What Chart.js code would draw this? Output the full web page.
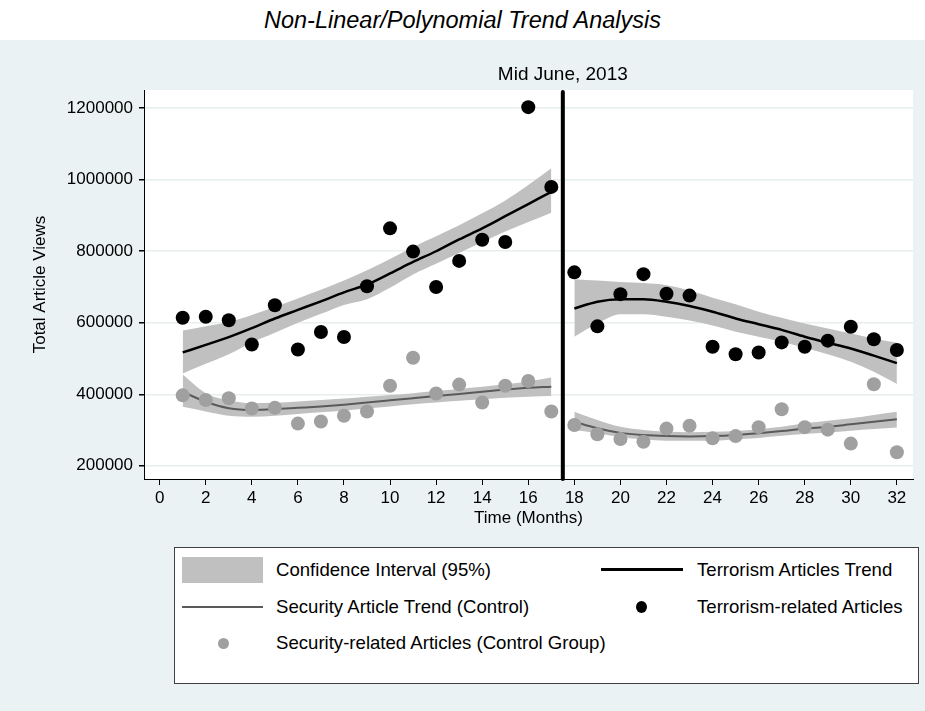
<!DOCTYPE html>
<html>
<head>
<meta charset="utf-8">
<script src="https://cdn.jsdelivr.net/npm/chart.js@4/dist/chart.umd.min.js"></script>
<style>
  html, body { margin: 0; padding: 0; }
  body { width: 925px; height: 711px; position: relative; overflow: hidden; background: #ffffff;
         font-family: "Liberation Sans", Arial, sans-serif; }
  #bg { position: absolute; left: 0; top: 40px; width: 925px; height: 671px; background: rgb(234,242,243); }
  #title { position: absolute; left: 0; top: 6px; width: 925px; text-align: center; font-style: italic;
           font-size: 23.5px; color: #000; line-height: 28px; }
  #wrap { position: absolute; left: 0; top: 0; width: 925px; height: 711px; }
  #legend { position: absolute; left: 174px; top: 547px; width: 745px; height: 137px; background: #fff;
            border: 1px solid #404040; box-sizing: border-box; }
  .lt { position: absolute; font-size: 18.6px; color: #000; line-height: 20px; white-space: nowrap; }
  .key { position: absolute; }
</style>
</head>
<body>
<div id="bg"></div>
<div id="title">Non-Linear/Polynomial Trend Analysis</div>
<div id="wrap"><canvas id="c" width="925" height="711"></canvas></div>
<div id="legend"></div>
<script>
// ---------------- data ----------------
const monthsPre  = [1,2,3,4,5,6,7,8,9,10,11,12,13,14,15,16,17];
const monthsPost = [18,19,20,21,22,23,24,25,26,27,28,29,30,31,32];
const monthsAll  = [1,2,3,4,5,6,7,8,9,10,11,12,13,14,15,16,17,18,19,20,21,22,23,24,25,26,27,28,29,30,31,32];

const terrorismViews = [614000,617000,607000,539000,649000,525000,574000,560000,702000,864000,799000,700000,773000,832000,826000,1203000,980000,
                        741000,590000,680000,736000,681000,676000,533000,512000,517000,545000,533000,550000,589000,554000,524000];
const securityViews  = [397000,384000,389000,360000,362000,318000,324000,340000,352000,424000,502000,402000,427000,377000,424000,437000,352000,
                        314000,288000,275000,267000,304000,312000,277000,283000,308000,358000,308000,301000,262000,428000,238000];

const terrTrendPre  = [517000,538000,560000,585000,612000,636000,660000,685000,707000,738000,770000,800000,833000,864000,898000,932000,966000];
const terrUpperPre  = [578000,590000,602000,622000,645000,668000,692000,718000,747000,778000,812000,842000,873000,906000,942000,985000,1032000];
const terrLowerPre  = [458000,485000,512000,545000,572000,600000,625000,650000,666000,698000,735000,765000,795000,825000,855000,882000,908000];

const terrTrendPost = [640000,659000,666000,666000,659000,647000,631000,612000,596000,580000,561000,544000,528000,508000,487000];
const terrUpperPost = [722000,718000,714000,711000,705000,690000,670000,652000,631000,614000,598000,584000,570000,556000,544000];
const terrLowerPost = [561000,598000,624000,624000,617000,606000,592000,575000,561000,547000,530000,512000,491000,463000,429000];

const secTrendPre   = [407000,379000,361000,356000,358000,362000,366000,371000,377000,383000,389000,395000,401000,407000,413000,418000,421000];
const secUpperPre   = [455000,403000,383000,375000,376000,380000,384000,388000,393000,398000,403000,409000,415000,421000,428000,436000,447000];
const secLowerPre   = [365000,352000,340000,337000,340000,345000,350000,354000,360000,366000,372000,377000,382000,386000,390000,393000,395000];

const secTrendPost  = [323000,305000,292000,286000,283000,282000,283000,286000,291000,297000,304000,309000,316000,323000,330000];
const secUpperPost  = [351000,328000,309000,300000,295000,294000,295000,297000,302000,309000,319000,326000,333000,342000,351000];
const secLowerPost  = [300000,291000,280000,274000,270000,270000,270000,274000,278000,284000,289000,293000,298000,303000,307000];

const cutoffMonth = 17.5;
const cutoffLabel = "Mid June, 2013";
const xTicks = [0,2,4,6,8,10,12,14,16,18,20,22,24,26,28,30,32];
const yTicks = [200000,400000,600000,800000,1000000,1200000];

const legendLabels = {
  ci: "Confidence Interval (95%)",
  terrTrend: "Terrorism Articles Trend",
  secTrend: "Security Article Trend (Control)",
  terrPts: "Terrorism-related Articles",
  secPts: "Security-related Articles (Control Group)"
};

// ---------------- styles ----------------
const FONT = '"Liberation Sans", Arial, sans-serif';
const bandColor = 'rgb(192,192,192)';
const gridColor = 'rgb(230,238,240)';
const terrColor = '#000000';
const secLineColor = 'rgb(90,90,90)';
const secPtColor = 'rgb(160,160,160)';

const pts = (xs, ys) => xs.map((x, i) => ({x: x, y: ys[i]}));

function bandPair(xs, up, lo) {
  return [
    { data: pts(xs, up), borderWidth: 0, pointRadius: 0, fill: false, showLine: true,
      cubicInterpolationMode: 'monotone', order: 20 },
    { data: pts(xs, lo), borderWidth: 0, pointRadius: 0, fill: '-1', backgroundColor: bandColor, showLine: true,
      cubicInterpolationMode: 'monotone', order: 20 }
  ];
}
function trend(xs, ys, color, w) {
  return { data: pts(xs, ys), borderColor: color, borderWidth: w, pointRadius: 0, fill: false, showLine: true,
           cubicInterpolationMode: 'monotone', order: 10 };
}
function points(xs, ys, color, r, ord) {
  return { data: pts(xs, ys), showLine: false, pointRadius: r, pointBackgroundColor: color,
           pointBorderWidth: 0, borderColor: color, order: ord };
}

const datasets = [].concat(
  bandPair(monthsPre, terrUpperPre, terrLowerPre),
  bandPair(monthsPost, terrUpperPost, terrLowerPost),
  bandPair(monthsPre, secUpperPre, secLowerPre),
  bandPair(monthsPost, secUpperPost, secLowerPost),
  [trend(monthsPre, terrTrendPre, terrColor, 2.5),
   trend(monthsPost, terrTrendPost, terrColor, 2.5),
   trend(monthsPre, secTrendPre, secLineColor, 2),
   trend(monthsPost, secTrendPost, secLineColor, 2),
   points(monthsAll, securityViews, secPtColor, 7, 3),
   points(monthsAll, terrorismViews, terrColor, 7, 2)]
);

const plotBg = {
  id: 'plotBg',
  beforeDraw(chart) {
    const a = chart.chartArea, ctx = chart.ctx;
    ctx.save(); ctx.fillStyle = '#ffffff';
    ctx.fillRect(a.left, a.top, a.right - a.left, a.bottom - a.top);
    ctx.restore();
  }
};
const cutoff = {
  id: 'cutoff',
  afterDatasetsDraw(chart) {
    const a = chart.chartArea, ctx = chart.ctx;
    const x = chart.scales.x.getPixelForValue(cutoffMonth);
    ctx.save();
    ctx.strokeStyle = '#000'; ctx.lineWidth = 4; ctx.lineCap = 'round';
    ctx.beginPath(); ctx.moveTo(x, a.top + 2); ctx.lineTo(x, a.bottom); ctx.stroke();
    ctx.fillStyle = '#000'; ctx.font = '19px ' + FONT; ctx.textAlign = 'center'; ctx.textBaseline = 'middle';
    ctx.fillText(cutoffLabel, x, a.top - 15);
    ctx.restore();
  }
};

new Chart(document.getElementById('c'), {
  type: 'line',
  data: { datasets: datasets },
  plugins: [plotBg, cutoff],
  options: {
    responsive: false,
    animation: false,
    events: [],
    layout: { padding: { top: 90, right: 12, bottom: 172, left: 0 } },
    plugins: { legend: { display: false }, tooltip: { enabled: false }, title: { display: false } },
    scales: {
      x: {
        type: 'linear', min: -0.68, max: 32.7,
        afterBuildTicks: s => { s.ticks = xTicks.map(v => ({value: v})); },
        afterFit: s => { s.height = 60; },
        grid: { drawOnChartArea: false, drawTicks: true, tickLength: 6, tickColor: '#000', color: '#000' },
        border: { display: true, color: '#000', width: 1 },
        ticks: { color: '#000', font: { family: FONT, size: 17 }, padding: 3, maxRotation: 0, autoSkip: false },
        title: { display: true, text: 'Time (Months)', color: '#000', font: { family: FONT, size: 17 },
                 padding: { top: 0, bottom: 10 } }
      },
      y: {
        type: 'linear', min: 163000, max: 1251000,
        afterBuildTicks: s => { s.ticks = yTicks.map(v => ({value: v})); },
        afterFit: s => { s.width = 144; },
        grid: { color: gridColor, lineWidth: 1.5, drawTicks: true, tickLength: 5, tickColor: '#000' },
        border: { display: true, color: '#000', width: 1 },
        ticks: { color: '#000', font: { family: FONT, size: 17 }, padding: 6, callback: v => String(v), autoSkip: false },
        title: { display: true, text: 'Total Article Views', color: '#000', font: { family: FONT, size: 17 },
                 padding: { top: 30, bottom: 0 } }
      }
    }
  }
});

// ---------------- legend (HTML) ----------------
(function () {
  const L = document.getElementById('legend');
  const add = (html) => { L.insertAdjacentHTML('beforeend', html); };
  // row 1
  add('<div class="key" style="left:7px;top:9px;width:81px;height:26px;background:' + bandColor + '"></div>');
  add('<div class="lt" style="left:101px;top:12px">' + legendLabels.ci + '</div>');
  add('<div class="key" style="left:426px;top:20px;width:82px;height:3px;background:' + terrColor + '"></div>');
  add('<div class="lt" style="left:522px;top:12px">' + legendLabels.terrTrend + '</div>');
  // row 2
  add('<div class="key" style="left:7px;top:58px;width:81px;height:2px;background:' + secLineColor + '"></div>');
  add('<div class="lt" style="left:101px;top:49px">' + legendLabels.secTrend + '</div>');
  add('<div class="key" style="left:461px;top:53px;width:11px;height:12px;border-radius:50%;background:' + terrColor + '"></div>');
  add('<div class="lt" style="left:522px;top:49px">' + legendLabels.terrPts + '</div>');
  // row 3
  add('<div class="key" style="left:43px;top:90px;width:11px;height:11px;border-radius:50%;background:' + secPtColor + '"></div>');
  add('<div class="lt" style="left:101px;top:85px">' + legendLabels.secPts + '</div>');
})();
</script>
</body>
</html>
